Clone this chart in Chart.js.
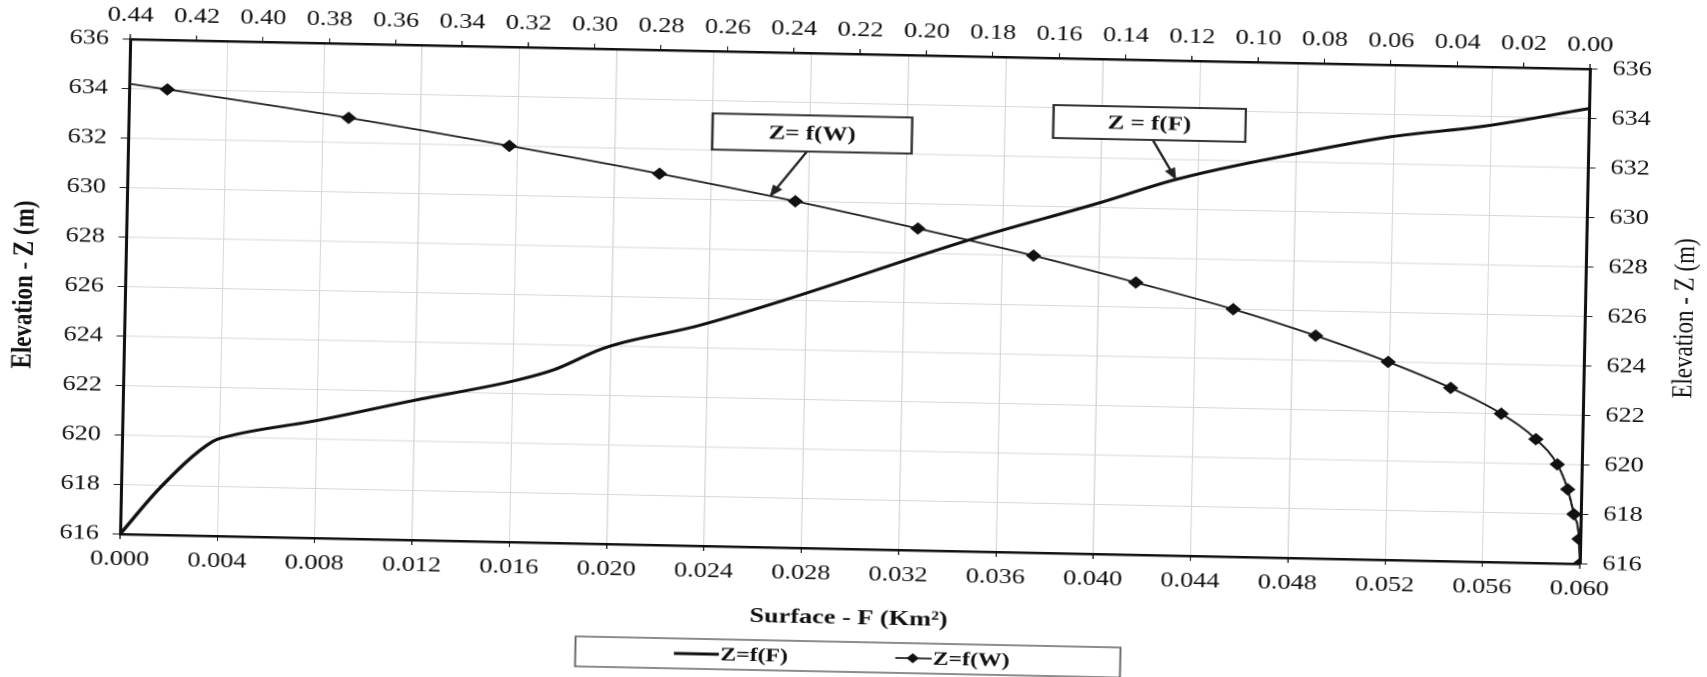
<!DOCTYPE html>
<html>
<head>
<meta charset="utf-8">
<title>Z = f(F), Z = f(W)</title>
<script src="https://cdn.jsdelivr.net/npm/chart.js@4.4.1/dist/chart.umd.min.js"></script>
<style>
  html, body { margin: 0; padding: 0; background: #fff; overflow: hidden; }
  /* the scanned original is a bit stretched and tilted */
  #wrap {
    position: absolute; left: 150.5px; top: 0;
    width: 1400px; height: 677px;
    transform-origin: 704px 301.5px;
    transform: rotate(1.17deg) scaleX(1.25);
  }
</style>
</head>
<body>
<div id="wrap"><canvas id="chart"></canvas></div>
<script>
// Z = f(F) : surface (km2) -> elevation (m)
const surfaceF = [0, 0.0016, 0.0037, 0.0044, 0.008, 0.012, 0.016, 0.0177, 0.0197, 0.0236, 0.0271, 0.0347, 0.040, 0.0431, 0.0488, 0.0519, 0.0557, 0.060];
const elevF    = [616, 617.9, 619.8, 620.05, 620.75, 621.65, 622.5, 623.0, 623.9, 624.9, 626.0, 628.6, 630.2, 631.2, 632.5, 633.1, 633.6, 634.4];

// Z = f(W) : volume -> elevation (m), one point per metre
const volumeW = [0, 0.0004, 0.0021, 0.0041, 0.0074, 0.014, 0.0246, 0.040, 0.059, 0.081, 0.106, 0.1355, 0.1665, 0.2015, 0.2386, 0.2797, 0.3251, 0.3737, 0.4285, 0.487];
const elevW    = [616, 617, 618, 619, 620, 621, 622, 623, 624, 625, 626, 627, 628, 629, 630, 631, 632, 633, 634, 635];

// axis ranges: [min, max, step]
const surfaceAxis = [0, 0.06, 0.004];
const volumeAxis  = [0, 0.44, 0.02];
const elevAxis    = [616, 636, 2];

const seriesNames = ['Z=f(F)', 'Z=f(W)'];
const axisTitles = ['Surface - F (Km²)', 'Elevation - Z (m)'];

// callout labels, in surface / elevation units
const callouts = [
  { text: 'Z= f(W)', box: [0.0240, 633.48, 0.0322, 632.02], from: [0.0279, 632.02], to: [0.0264, 630.15] },
  { text: 'Z = f(F)', box: [0.0380, 634.1, 0.0459, 632.77], from: [0.0421, 632.77], to: [0.0431, 631.17] },
];

const serif = "'Liberation Serif', 'Times New Roman', serif";
Chart.defaults.font.family = serif;
Chart.defaults.color = '#111';

const calloutPlugin = {
  id: 'callouts',
  afterDatasetsDraw(chart) {
    const { ctx, scales: { x, y } } = chart;
    ctx.save();
    callouts.forEach((c) => {
      const ax = x.getPixelForValue(c.from[0]), ay = y.getPixelForValue(c.from[1]);
      const tx = x.getPixelForValue(c.to[0]), ty = y.getPixelForValue(c.to[1]);
      const ang = Math.atan2(ty - ay, tx - ax);
      ctx.strokeStyle = '#222';
      ctx.fillStyle = '#222';
      ctx.lineWidth = 2;
      ctx.beginPath();
      ctx.moveTo(ax, ay);
      ctx.lineTo(tx - 6 * Math.cos(ang), ty - 6 * Math.sin(ang));
      ctx.stroke();
      ctx.beginPath();
      ctx.moveTo(tx, ty);
      ctx.lineTo(tx - 12 * Math.cos(ang) + 4.5 * Math.sin(ang), ty - 12 * Math.sin(ang) - 4.5 * Math.cos(ang));
      ctx.lineTo(tx - 12 * Math.cos(ang) - 4.5 * Math.sin(ang), ty - 12 * Math.sin(ang) + 4.5 * Math.cos(ang));
      ctx.closePath();
      ctx.fill();

      const x0 = x.getPixelForValue(c.box[0]), y0 = y.getPixelForValue(c.box[1]);
      const x1 = x.getPixelForValue(c.box[2]), y1 = y.getPixelForValue(c.box[3]);
      ctx.fillStyle = '#fff';
      ctx.fillRect(x0, y0, x1 - x0, y1 - y0);
      ctx.strokeStyle = '#333';
      ctx.strokeRect(x0, y0, x1 - x0, y1 - y0);
      ctx.fillStyle = '#111';
      ctx.font = 'bold 20px ' + serif;
      ctx.textAlign = 'center';
      ctx.textBaseline = 'middle';
      ctx.fillText(c.text, (x0 + x1) / 2, (y0 + y1) / 2 + 1);
    });
    ctx.restore();
  },
};

// boxed legend under the axis title, plus the right-hand axis title
const framePlugin = {
  id: 'frame',
  beforeDraw(chart) {
    const { ctx } = chart;
    ctx.save();
    ctx.fillStyle = '#fff';
    ctx.fillRect(0, 0, chart.width, chart.height);
    ctx.restore();
  },
  afterDraw(chart) {
    const { ctx, chartArea } = chart;
    const cx = (chartArea.left + chartArea.right) / 2;
    const top = chart.height - 35, h = 30, w = 436;
    const my = top + h / 2;
    ctx.save();
    ctx.strokeStyle = '#666';
    ctx.lineWidth = 1.5;
    ctx.strokeRect(cx - w / 2, top, w, h);

    ctx.font = 'bold 19px ' + serif;
    ctx.textAlign = 'left';
    ctx.textBaseline = 'middle';
    ctx.fillStyle = '#111';
    const dsF = chart.data.datasets[0], dsW = chart.data.datasets[1];
    // F sample
    ctx.strokeStyle = dsF.borderColor;
    ctx.lineWidth = dsF.borderWidth;
    ctx.beginPath(); ctx.moveTo(cx - 139, my); ctx.lineTo(cx - 103, my); ctx.stroke();
    ctx.fillText(dsF.label, cx - 102, my + 1);
    // W sample
    ctx.strokeStyle = dsW.borderColor;
    ctx.lineWidth = dsW.borderWidth;
    ctx.beginPath(); ctx.moveTo(cx + 38, my); ctx.lineTo(cx + 67, my); ctx.stroke();
    ctx.beginPath();
    ctx.moveTo(cx + 52, my - 5); ctx.lineTo(cx + 57, my); ctx.lineTo(cx + 52, my + 5); ctx.lineTo(cx + 47, my);
    ctx.closePath();
    ctx.fillStyle = dsW.pointBackgroundColor;
    ctx.fill();
    ctx.fillStyle = '#111';
    ctx.fillText(dsW.label, cx + 68, my + 1);

    // right axis title, reading upwards like the left one
    ctx.translate(chart.width - 31.6, (chartArea.top + chartArea.bottom) / 2);
    ctx.rotate(-Math.PI / 2);
    ctx.font = '23px ' + serif;
    ctx.textAlign = 'center';
    ctx.fillText(axisTitles[1], 0, 0);
    ctx.restore();
  },
};

const tickFont = { size: 21 };
const gridColor = '#d8d8d8';

new Chart(document.getElementById('chart'), {
  type: 'scatter',
  data: {
    datasets: [
      {
        label: seriesNames[0],
        data: surfaceF.map((f, i) => ({ x: f, y: elevF[i] })),
        xAxisID: 'x',
        yAxisID: 'y',
        showLine: true,
        borderColor: '#111',
        borderWidth: 3,
        pointRadius: 0,
        cubicInterpolationMode: 'monotone',
      },
      {
        label: seriesNames[1],
        data: volumeW.map((w, i) => ({ x: w, y: elevW[i] })),
        xAxisID: 'x2',
        yAxisID: 'y',
        showLine: true,
        borderColor: '#222',
        borderWidth: 1.8,
        pointStyle: 'rectRot',
        pointRadius: 5.5,
        pointBackgroundColor: '#111',
        pointBorderColor: '#111',
        pointBorderWidth: 1,
        cubicInterpolationMode: 'monotone',
      },
    ],
  },
  options: {
    responsive: true,
    maintainAspectRatio: false,
    devicePixelRatio: 2,
    animation: false,
    layout: { padding: { left: 0, right: 0, top: 0, bottom: 43 } },
    plugins: {
      legend: { display: false },
      tooltip: { enabled: false },
    },
    scales: {
      x: {
        type: 'linear',
        position: 'bottom',
        min: surfaceAxis[0],
        max: surfaceAxis[1],
        afterFit: (s) => { s.height = 85; },
        ticks: {
          stepSize: surfaceAxis[2],
          autoSkip: false,
          maxRotation: 0,
          padding: 8,
          font: tickFont,
          callback: (v) => Number(v).toFixed(3),
        },
        grid: { color: gridColor, lineWidth: 1, tickLength: 5, tickColor: '#222' },
        border: { display: true, color: '#111', width: 2.5 },
        title: {
          display: true,
          text: axisTitles[0],
          font: { size: 21, weight: 'bold' },
          padding: { top: 0, bottom: 3 },
        },
      },
      x2: {
        type: 'linear',
        position: 'top',
        reverse: true,
        min: volumeAxis[0],
        max: volumeAxis[1],
        afterFit: (s) => { s.height = 54; },
        ticks: {
          stepSize: volumeAxis[2],
          autoSkip: false,
          maxRotation: 0,
          padding: 6,
          font: tickFont,
          callback: (v) => Number(v).toFixed(2),
        },
        grid: { drawOnChartArea: false, tickLength: 5, tickColor: '#222' },
        border: { display: true, color: '#111', width: 2.5 },
      },
      y: {
        type: 'linear',
        position: 'left',
        min: elevAxis[0],
        max: elevAxis[1],
        afterFit: (s) => { s.width = 120; },
        ticks: { stepSize: elevAxis[2], padding: 11, font: tickFont },
        grid: { color: gridColor, lineWidth: 1, tickLength: 6, tickColor: '#222' },
        border: { display: true, color: '#111', width: 2.5 },
        title: {
          display: true,
          text: axisTitles[1],
          font: { size: 23, weight: 'bold' },
          padding: { top: 26, bottom: 0 },
        },
      },
      y2: {
        type: 'linear',
        position: 'right',
        min: elevAxis[0],
        max: elevAxis[1],
        afterFit: (s) => { s.width = 112; },
        ticks: { stepSize: elevAxis[2], padding: 12, font: tickFont },
        grid: { drawOnChartArea: false, tickLength: 6, tickColor: '#222' },
        border: { display: true, color: '#111', width: 2.5 },
      },
    },
  },
  plugins: [framePlugin, calloutPlugin],
});
</script>
</body>
</html>
